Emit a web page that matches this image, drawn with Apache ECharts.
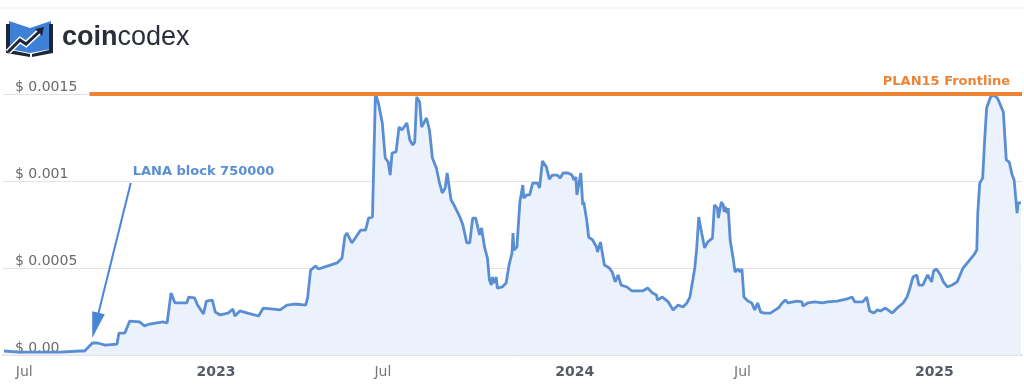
<!DOCTYPE html>
<html><head><meta charset="utf-8">
<script src="https://cdn.jsdelivr.net/npm/echarts@6/dist/echarts.min.js"></script>
<style>html,body{margin:0;padding:0;background:#fff}#c{width:1024px;height:390px}</style>
</head><body><div id="c"></div>
<script>
const dates = [
'2022-06-19','2022-07-05','2022-07-25','2022-08-15','2022-09-04','2022-09-09','2022-09-11','2022-09-17','2022-09-22','2022-09-30',
'2022-10-12','2022-10-14','2022-10-20','2022-10-25','2022-11-04','2022-11-09','2022-11-14','2022-11-28','2022-12-02','2022-12-06',
'2022-12-10','2022-12-15','2022-12-22','2022-12-24','2022-12-30','2023-01-02','2023-01-08','2023-01-11','2023-01-17','2023-01-20',
'2023-01-25','2023-02-02','2023-02-07','2023-02-09','2023-02-14','2023-02-22','2023-03-05','2023-03-10','2023-03-20','2023-03-27',
'2023-04-03','2023-04-11','2023-04-22','2023-04-24','2023-04-27','2023-05-02','2023-05-05','2023-05-14','2023-05-24','2023-05-29',
'2023-06-01','2023-06-03','2023-06-08','2023-06-17','2023-06-22','2023-06-25','2023-06-29','2023-07-02','2023-07-05','2023-07-09',
'2023-07-12','2023-07-15','2023-07-17','2023-07-19','2023-07-23','2023-07-26','2023-07-29','2023-08-03','2023-08-06','2023-08-09',
'2023-08-11','2023-08-13','2023-08-16','2023-08-18','2023-08-23','2023-08-26','2023-08-29','2023-09-02','2023-09-05','2023-09-08',
'2023-09-11','2023-09-13','2023-09-17','2023-09-20','2023-09-26','2023-09-29','2023-10-03','2023-10-06','2023-10-09','2023-10-12',
'2023-10-16','2023-10-18','2023-10-21','2023-10-24','2023-10-26','2023-10-28','2023-10-29','2023-10-31','2023-11-02','2023-11-03',
'2023-11-08','2023-11-12','2023-11-15','2023-11-18','2023-11-19','2023-11-20','2023-11-21','2023-11-23','2023-11-26','2023-11-29',
'2023-11-30','2023-12-03','2023-12-06','2023-12-09','2023-12-14','2023-12-16','2023-12-19','2023-12-23','2023-12-24','2023-12-26',
'2023-12-29','2024-01-03','2024-01-06','2024-01-09','2024-01-14','2024-01-18','2024-01-20','2024-01-22','2024-01-23','2024-01-27',
'2024-01-29','2024-01-30','2024-02-02','2024-02-04','2024-02-08','2024-02-12','2024-02-13','2024-02-16','2024-02-18','2024-02-20',
'2024-02-25','2024-02-28','2024-03-02','2024-03-05','2024-03-08','2024-03-14','2024-03-19','2024-03-30','2024-04-04','2024-04-09',
'2024-04-13','2024-04-14','2024-04-19','2024-04-25','2024-04-30','2024-05-05','2024-05-10','2024-05-14','2024-05-17','2024-05-20',
'2024-05-22','2024-05-24','2024-05-26','2024-05-29','2024-06-01','2024-06-04','2024-06-09','2024-06-11','2024-06-14','2024-06-15',
'2024-06-18','2024-06-20','2024-06-21','2024-06-22','2024-06-24','2024-06-25','2024-06-27','2024-06-30','2024-07-02','2024-07-05',
'2024-07-07','2024-07-09','2024-07-11','2024-07-15','2024-07-19','2024-07-22','2024-07-25','2024-07-28','2024-08-01','2024-08-07',
'2024-08-12','2024-08-15','2024-08-19','2024-08-22','2024-08-25','2024-09-03','2024-09-08','2024-09-09','2024-09-14','2024-09-21',
'2024-09-29','2024-10-04','2024-10-14','2024-10-24','2024-10-29','2024-11-01','2024-11-09','2024-11-13','2024-11-16','2024-11-20',
'2024-11-24','2024-11-27','2024-12-02','2024-12-09','2024-12-14','2024-12-20','2024-12-24','2024-12-27','2024-12-30','2025-01-03',
'2025-01-05','2025-01-09','2025-01-14','2025-01-16','2025-01-18','2025-01-20','2025-01-23','2025-01-27','2025-01-30','2025-02-03',
'2025-02-08','2025-02-13','2025-02-16','2025-02-19','2025-02-24','2025-03-02','2025-03-05','2025-03-06','2025-03-08','2025-03-11',
'2025-03-13','2025-03-15','2025-03-17','2025-03-19','2025-03-22','2025-03-26','2025-03-29','2025-04-01','2025-04-04','2025-04-07',
'2025-04-10','2025-04-12','2025-04-15','2025-04-16','2025-04-19'
];
const prices = [
0.000023,0.000017,0.000017,0.000017,0.000023,0.000023,0.000034,0.000069,0.000069,0.000057,
0.000063,0.000126,0.000126,0.000195,0.000190,0.000167,0.000178,0.000190,0.000184,0.000356,
0.000299,0.000299,0.000299,0.000333,0.000328,0.000287,0.000236,0.000310,0.000316,0.000247,
0.000230,0.000241,0.000264,0.000224,0.000253,0.000241,0.000224,0.000270,0.000264,0.000259,
0.000287,0.000293,0.000287,0.000328,0.000488,0.000511,0.000494,0.000511,0.000529,0.000557,
0.000684,0.000701,0.000644,0.000718,0.000718,0.000787,0.000793,0.001500,0.001448,0.001333,
0.001132,0.001109,0.001034,0.001161,0.001167,0.001310,0.001293,0.001333,0.001236,0.001207,
0.001224,0.001483,0.001454,0.001310,0.001362,0.001293,0.001132,0.001075,0.000994,0.000931,
0.000960,0.001046,0.000891,0.000862,0.000793,0.000747,0.000644,0.000644,0.000787,0.000787,
0.000690,0.000730,0.000621,0.000557,0.000431,0.000402,0.000448,0.000414,0.000448,0.000385,
0.000391,0.000414,0.000517,0.000586,0.000701,0.000603,0.000603,0.000621,0.000879,0.000977,
0.000902,0.000920,0.000920,0.000988,0.000988,0.000960,0.001115,0.001080,0.001080,0.001011,
0.001034,0.001034,0.001017,0.001046,0.001046,0.001034,0.001006,0.001023,0.000920,0.001046,
0.000862,0.000879,0.000776,0.000678,0.000661,0.000621,0.000592,0.000649,0.000644,0.000517,
0.000500,0.000477,0.000420,0.000460,0.000402,0.000391,0.000368,0.000368,0.000385,0.000356,
0.000345,0.000316,0.000333,0.000305,0.000259,0.000287,0.000276,0.000299,0.000333,0.000431,
0.000500,0.000615,0.000793,0.000701,0.000615,0.000649,0.000672,0.000862,0.000845,0.000787,
0.000879,0.000862,0.000822,0.000851,0.000816,0.000845,0.000661,0.000557,0.000477,0.000494,
0.000477,0.000494,0.000333,0.000310,0.000299,0.000259,0.000299,0.000247,0.000241,0.000241,
0.000259,0.000270,0.000299,0.000316,0.000299,0.000310,0.000305,0.000282,0.000299,0.000305,
0.000299,0.000305,0.000310,0.000322,0.000333,0.000305,0.000305,0.000333,0.000253,0.000241,
0.000259,0.000253,0.000270,0.000241,0.000270,0.000299,0.000333,0.000385,0.000448,0.000460,
0.000402,0.000402,0.000460,0.000471,0.000420,0.000483,0.000494,0.000460,0.000420,0.000391,
0.000402,0.000420,0.000460,0.000500,0.000534,0.000575,0.000603,0.000816,0.000988,0.001017,
0.001236,0.001420,0.001425,0.001483,0.001494,0.001477,0.001437,0.001397,0.001121,0.001109,
0.001034,0.001006,0.000816,0.000874,0.000874
];
const xMin = '2022-06-18';
const xMax = '2025-04-20';
const xTickDates = ['2022-07-01','2023-01-01','2023-07-01','2024-01-01','2024-07-01','2025-01-01'];
const xTickLabels = ['Jul','2023','Jul','2024','Jul','2025'];
const yMax = 0.0015;
const yInterval = 0.0005;
const yTickLabels = ['$ 0.00','$ 0.0005','$ 0.001','$ 0.0015'];
const frontlineValue = 0.0015;
const frontlineStart = '2022-09-14';
const frontlineLabel = 'PLAN15 Frontline';
const blockLabel = 'LANA block 750000';
const blockLabelAt = ['2022-10-28', 0.001052];
const blockArrowFrom = ['2022-10-26', 0.000988];
const blockArrowTo = ['2022-09-20', 0.000170];

function ts(s){ const p = s.split('-').map(Number); return Date.UTC(p[0], p[1]-1, p[2]); }
const tickTs = xTickDates.map(ts);
const seriesData = dates.map((d,i)=>[ts(d), prices[i]]);

const chart = echarts.init(document.getElementById('c'), null, {renderer:'canvas'});
chart.setOption({
  animation:false,
  backgroundColor:'#ffffff',
  grid:{left:3, right:2, top:94, bottom:35, containLabel:false},
  xAxis:{
    type:'value', min:ts(xMin), max:ts(xMax), scale:true,
    axisLine:{show:true, lineStyle:{color:'#c3cad6', width:1.5}},
    axisTick:{show:false, customValues: tickTs},
    splitLine:{show:false},
    axisLabel:{
      customValues: tickTs,
      align:'left', margin:10,
      fontFamily:'DejaVu Sans', fontSize:14, color:'#777777',
      formatter:function(v){
        const i = tickTs.findIndex(t=>Math.abs(t-v)<43200000);
        if(i<0) return '';
        const s = xTickLabels[i];
        return /^\d{4}$/.test(s) ? '{y|'+s+'}' : s;
      },
      rich:{ y:{fontWeight:'bold', color:'#565c66', fontFamily:'DejaVu Sans', fontSize:14} }
    }
  },
  yAxis:{
    type:'value', min:0, max:yMax, interval:yInterval,
    axisLine:{show:false}, axisTick:{show:false},
    splitLine:{show:true, lineStyle:{color:'#e3e3e3', width:1}},
    axisLabel:{
      inside:true, margin:12, verticalAlign:'bottom', align:'left',
      fontFamily:'DejaVu Sans', fontSize:14, color:'#6a6a6a',
      showMinLabel:true, showMaxLabel:true,
      formatter:function(v){ return yTickLabels[Math.round(v/yInterval)]; }
    },
    z:3
  },
  series:[{
    type:'line', data:seriesData, symbol:'none', showSymbol:false, clip:false,
    lineStyle:{color:'#5a8ed3', width:2.8},
    itemStyle:{color:'#5a8ed3'},
    areaStyle:{color:'#ecf2fb', opacity:1},
    markLine:{
      silent:true, animation:false, symbol:['none','none'],
      data:[
        [
          {coord:[ts(frontlineStart), frontlineValue],
           lineStyle:{color:'#ec8438', width:4, type:'solid'},
           label:{show:true, position:'insideEndTop', formatter:frontlineLabel, distance:[12,6],
                  color:'#ec8438', fontFamily:'DejaVu Sans', fontWeight:'bold', fontSize:13}},
          {coord:[ts(xMax), frontlineValue]}
        ],
        [
          {coord:[ts(blockArrowFrom[0]), blockArrowFrom[1]],
           lineStyle:{color:'#4a86d4', width:2, type:'solid'},
           label:{show:false}},
          {coord:[ts(blockArrowTo[0]), blockArrowTo[1]], symbol:'triangle', symbolSize:[13,26]}
        ]
      ]
    },
    markPoint:{
      silent:true, animation:false, symbol:'circle', symbolSize:0,
      data:[{coord:[ts(blockLabelAt[0]), blockLabelAt[1]],
        label:{show:true, position:'right', distance:0, formatter:blockLabel,
               color:'#5a8fd6', fontFamily:'DejaVu Sans', fontWeight:'bold', fontSize:13}}]
    }
  }],
  graphic:[
    {type:'line', shape:{x1:0,y1:8,x2:1024,y2:8}, style:{stroke:'#ededed', lineWidth:1}, silent:true},
    {type:'polygon', shape:{points:[[9,21],[30,28],[51,21],[51,49],[30,53],[9,49]]}, style:{fill:'#3d80d6'}, silent:true},
    {type:'polygon', shape:{points:[[6,24],[10,24],[10,50],[30,54],[30,57],[6,53]]}, style:{fill:'#1d2738'}, silent:true},
    {type:'polygon', shape:{points:[[49,24],[53,24],[53,53],[32,57],[32,54],[49,50]]}, style:{fill:'#1d2738'}, silent:true},
    {type:'polyline', shape:{points:[[8,52],[20,40],[26,44],[39,32]]}, style:{stroke:'#ffffff', lineWidth:6, fill:null}, silent:true},
    {type:'polyline', shape:{points:[[8,52],[20,40],[26,44],[39,32]]}, style:{stroke:'#1d2738', lineWidth:3, fill:null}, silent:true},
    {type:'polygon', shape:{points:[[35,29],[44,27],[42,36]]}, style:{fill:'#1d2738'}, silent:true},
    {type:'text', x:62, y:38, silent:true,
     style:{text:'{b|coin}{r|codex}', verticalAlign:'middle', align:'left',
            rich:{
              b:{fontFamily:'Liberation Sans', fontWeight:'bold', fontSize:27, fill:'#2a2e39'},
              r:{fontFamily:'Liberation Sans', fontWeight:'normal', fontSize:27, fill:'#2a2e39'}
            }}}
  ]
});
</script>
</body></html>
